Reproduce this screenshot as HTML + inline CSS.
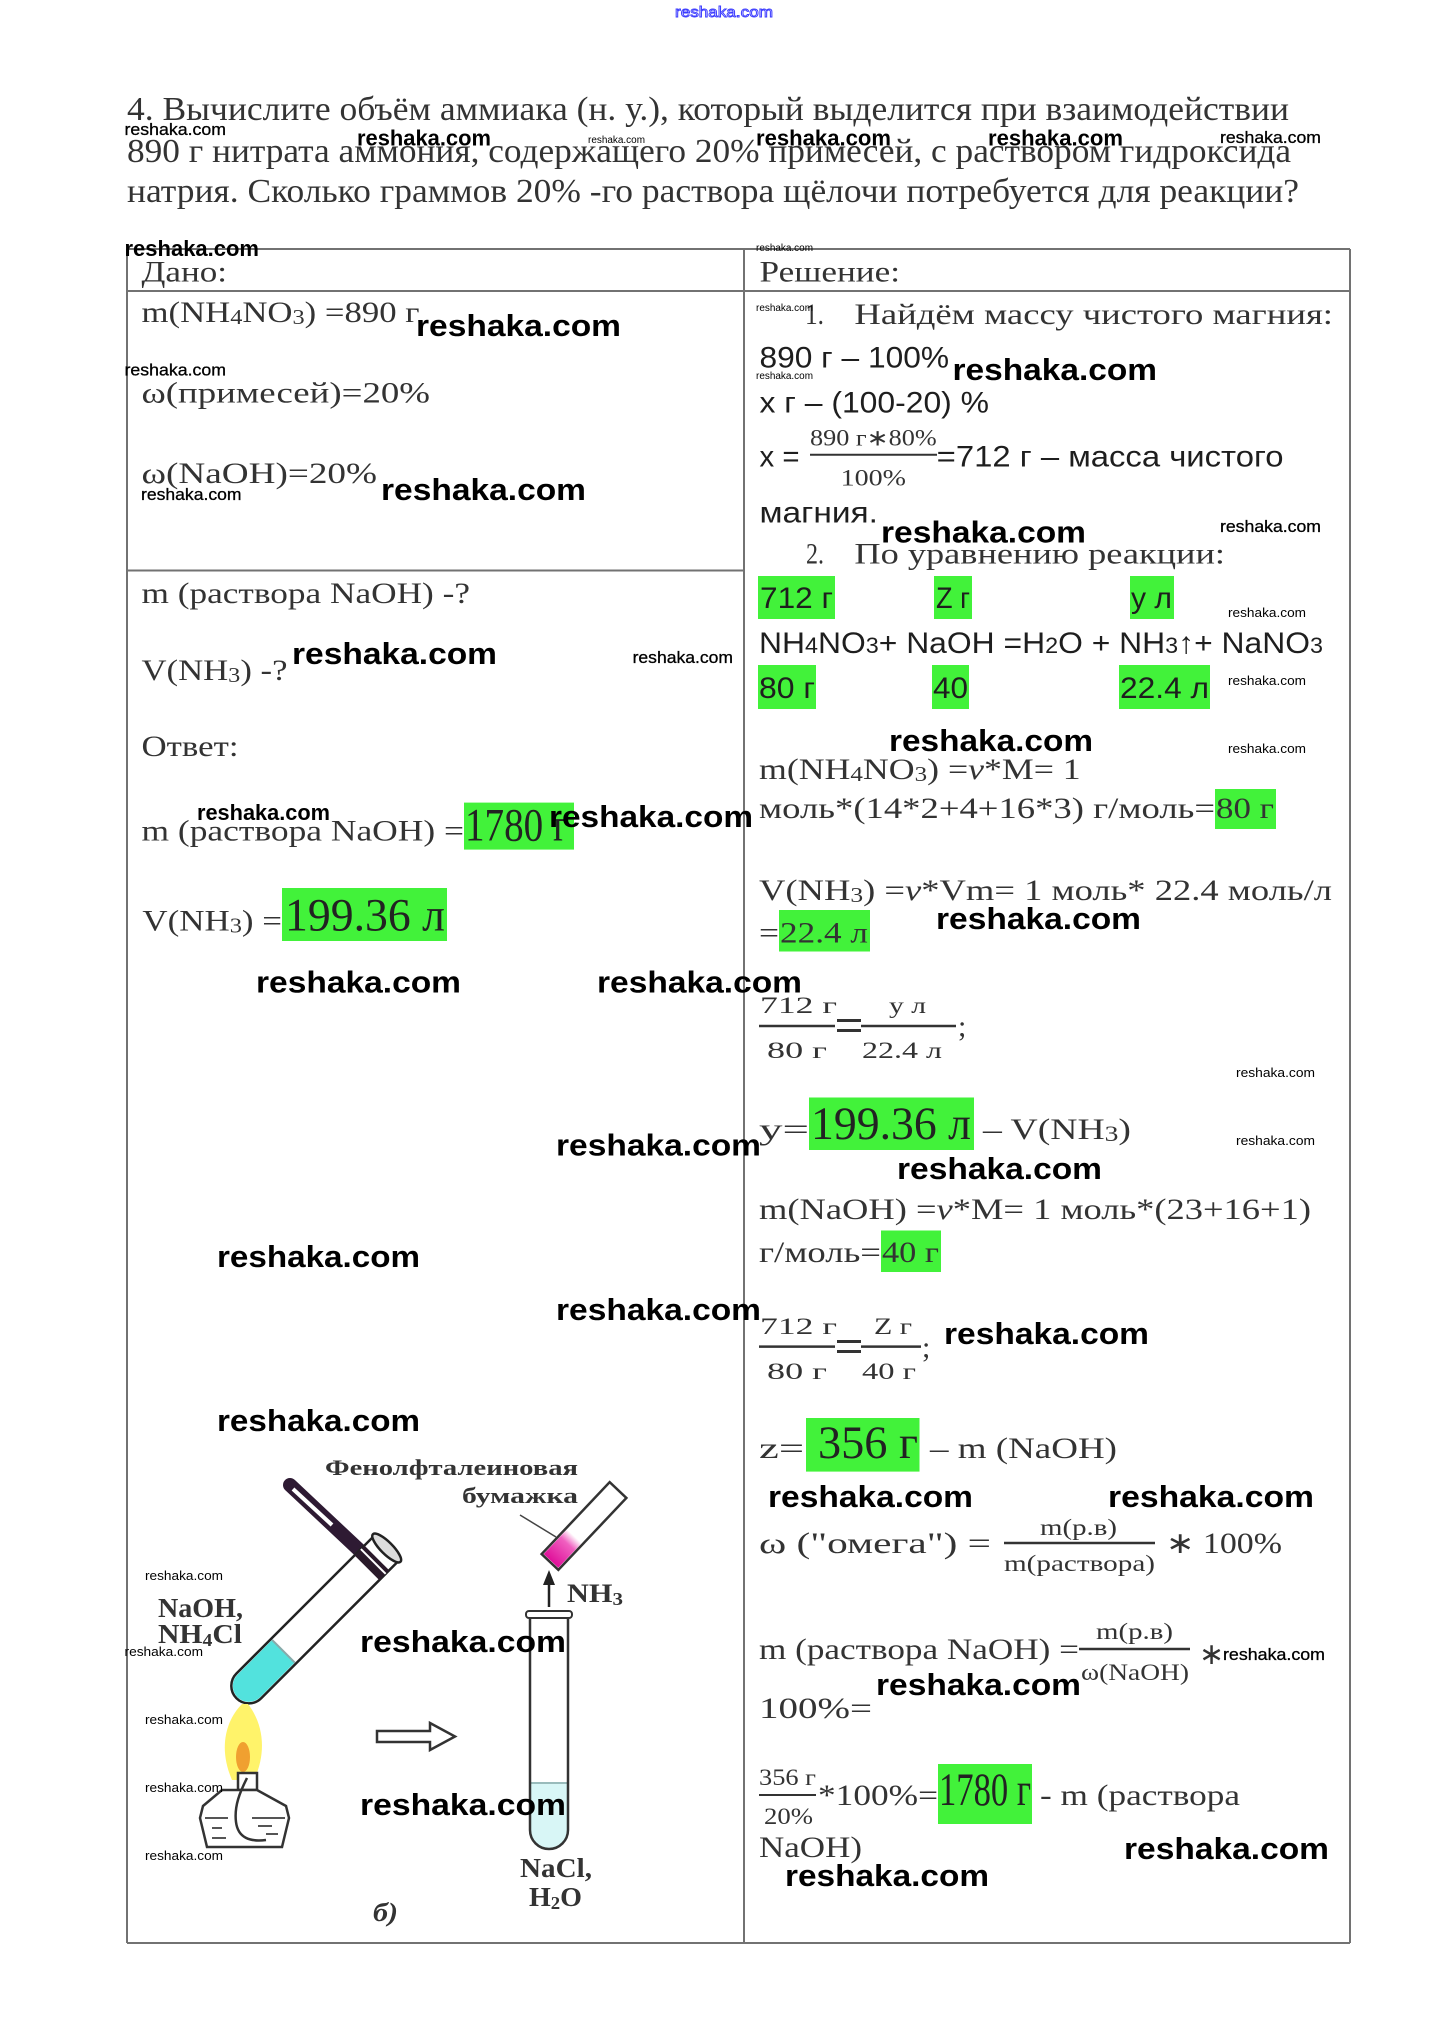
<!DOCTYPE html>
<html><head><meta charset="utf-8">
<style>
html,body{margin:0;padding:0;background:#fff;}
body{width:1448px;height:2022px;overflow:hidden;}
svg{display:block;}
.t{font-family:"Liberation Serif",serif;font-size:34px;fill:#333;}
.s{font-family:"Liberation Serif",serif;font-size:30px;fill:#333;}
.sb{font-family:"Liberation Serif",serif;font-size:47px;fill:#222;}
.sm{font-family:"Liberation Serif",serif;font-size:23px;fill:#333;}
.c{font-family:"Liberation Sans",sans-serif;font-size:30px;fill:#1e1e1e;}
.b{font-family:"Liberation Serif",serif;font-weight:bold;fill:#333;}
.wb{font-family:"Liberation Sans",sans-serif;font-size:31px;font-weight:bold;fill:#000;}
.wm{font-family:"Liberation Sans",sans-serif;font-size:22px;font-weight:bold;fill:#000;}
.ws{font-family:"Liberation Sans",sans-serif;font-size:17px;fill:#000;stroke:#000;stroke-width:0.3;}
.wx{font-family:"Liberation Sans",sans-serif;font-size:13px;fill:#000;}
.wt{font-family:"Liberation Sans",sans-serif;font-size:10px;fill:#000;}
.g{fill:#42f23a;}
</style></head>
<body>
<svg width="1448" height="2022" viewBox="0 0 1448 2022" xmlns="http://www.w3.org/2000/svg">
<rect x="0" y="0" width="1448" height="2022" fill="#fff"/>

<!-- top blue watermark -->
<text x="675" y="17" textLength="98" lengthAdjust="spacingAndGlyphs" style="font-family:'Liberation Sans',sans-serif;font-size:15px;fill:#fff;stroke:#3b3bff;stroke-width:0.9;">reshaka.com</text>

<!-- title -->
<text class="t" x="127" y="120" textLength="1162" lengthAdjust="spacingAndGlyphs">4. Вычислите объём аммиака (н. у.), который выделится при взаимодействии</text>
<text class="t" x="127" y="162" textLength="1164" lengthAdjust="spacingAndGlyphs">890 г нитрата аммония, содержащего 20% примесей, с раствором гидроксида</text>
<text class="t" x="127" y="202" textLength="1172" lengthAdjust="spacingAndGlyphs">натрия. Сколько граммов 20% -го раствора щёлочи потребуется для реакции?</text>

<!-- table -->
<g stroke="#727272" stroke-width="2" fill="none">
<line x1="127" y1="249" x2="1350" y2="249"/>
<line x1="127" y1="291" x2="1350" y2="291"/>
<line x1="127" y1="570.5" x2="744" y2="570.5"/>
<line x1="127" y1="1943" x2="1350" y2="1943"/>
<line x1="127" y1="249" x2="127" y2="1943"/>
<line x1="744" y1="249" x2="744" y2="1943"/>
<line x1="1350" y1="249" x2="1350" y2="1943"/>
</g>

<!-- left column -->
<text class="s" x="141.5" y="281.5" textLength="85.5" lengthAdjust="spacingAndGlyphs">Дано:</text>
<text class="s" x="141.5" y="322" textLength="278" lengthAdjust="spacingAndGlyphs">m(NH<tspan font-size="21" dy="2">4</tspan><tspan dy="-2">NO</tspan><tspan font-size="21" dy="2">3</tspan><tspan dy="-2">) =890 г</tspan></text>
<text class="s" x="141.5" y="402.5" textLength="288.5" lengthAdjust="spacingAndGlyphs">ω(примесей)=20%</text>
<text class="s" x="141.5" y="483" textLength="235.5" lengthAdjust="spacingAndGlyphs">ω(NaOH)=20%</text>
<text class="s" x="141.5" y="603" textLength="328.5" lengthAdjust="spacingAndGlyphs">m (раствора NaOH) -?</text>
<text class="s" x="141.5" y="680" textLength="146" lengthAdjust="spacingAndGlyphs">V(NH<tspan font-size="21" dy="2">3</tspan><tspan dy="-2">) -?</tspan></text>
<text class="s" x="141.5" y="756" textLength="97" lengthAdjust="spacingAndGlyphs">Ответ:</text>
<text class="s" x="141.5" y="840.5" textLength="322.5" lengthAdjust="spacingAndGlyphs">m (раствора NaOH) =</text>
<rect class="g" x="464" y="802.6" width="110" height="47"/>
<text class="sb" x="465" y="840.5" textLength="104" lengthAdjust="spacingAndGlyphs" font-size="45">1780 г</text>
<text class="s" x="142.4" y="930.5" textLength="139.6" lengthAdjust="spacingAndGlyphs">V(NH<tspan font-size="21" dy="2">3</tspan><tspan dy="-2">) =</tspan></text>
<rect class="g" x="282" y="888" width="165" height="53"/>
<text class="sb" x="285" y="930.5" textLength="160" lengthAdjust="spacingAndGlyphs">199.36 л</text>

<!-- right column -->
<text class="s" x="759.5" y="281.5" textLength="140.5" lengthAdjust="spacingAndGlyphs">Решение:</text>
<text class="s" x="805" y="324" textLength="19" lengthAdjust="spacingAndGlyphs">1.</text>
<text class="s" x="854.4" y="324" textLength="478.6" lengthAdjust="spacingAndGlyphs">Найдём массу чистого магния:</text>
<text class="c" x="759.5" y="367.7" textLength="189.5" lengthAdjust="spacingAndGlyphs">890 г – 100%</text>
<text class="c" x="759.5" y="412.4" textLength="229.5" lengthAdjust="spacingAndGlyphs">x г – (100-20) %</text>
<text class="c" x="759.5" y="466.6" textLength="40" lengthAdjust="spacingAndGlyphs">x =</text>
<text class="sm" x="810" y="445.6" textLength="126.7" lengthAdjust="spacingAndGlyphs">890 г∗80%</text>
<line x1="810" y1="454.7" x2="937" y2="454.7" stroke="#333" stroke-width="2"/>
<text class="sm" x="840.6" y="485.6" textLength="65.4" lengthAdjust="spacingAndGlyphs">100%</text>
<text class="c" x="936.7" y="466.6" textLength="346.8" lengthAdjust="spacingAndGlyphs">=712 г – масса чистого</text>
<text class="c" x="759.5" y="522.7" textLength="118.5" lengthAdjust="spacingAndGlyphs">магния.</text>
<text class="s" x="806" y="563.5" textLength="18" lengthAdjust="spacingAndGlyphs">2.</text>
<text class="s" x="854.4" y="563.5" textLength="370.6" lengthAdjust="spacingAndGlyphs">По уравнению реакции:</text>

<rect class="g" x="758" y="576" width="77" height="43"/>
<rect class="g" x="934" y="576" width="38" height="43"/>
<rect class="g" x="1130" y="576" width="44" height="43"/>
<text class="c" x="760" y="608" textLength="73" lengthAdjust="spacingAndGlyphs">712 г</text>
<text class="c" x="936" y="608" textLength="34" lengthAdjust="spacingAndGlyphs">Z г</text>
<text class="c" x="1131" y="608" textLength="41" lengthAdjust="spacingAndGlyphs">у л</text>
<text class="c" x="759" y="653" textLength="564" lengthAdjust="spacingAndGlyphs">NH<tspan font-size="22">4</tspan>NO<tspan font-size="22">3</tspan>+ NaOH =H<tspan font-size="22">2</tspan>O + NH<tspan font-size="22">3</tspan>↑+ NaNO<tspan font-size="22">3</tspan></text>
<rect class="g" x="758" y="665" width="58" height="44"/>
<rect class="g" x="932" y="665" width="37" height="44"/>
<rect class="g" x="1119" y="665" width="91" height="44"/>
<text class="c" x="759" y="698" textLength="56" lengthAdjust="spacingAndGlyphs">80 г</text>
<text class="c" x="933" y="698" textLength="35" lengthAdjust="spacingAndGlyphs">40</text>
<text class="c" x="1120" y="698" textLength="89" lengthAdjust="spacingAndGlyphs">22.4 л</text>

<text class="s" x="759" y="779" textLength="321.7" lengthAdjust="spacingAndGlyphs">m(NH<tspan font-size="21" dy="2">4</tspan><tspan dy="-2">NO</tspan><tspan font-size="21" dy="2">3</tspan><tspan dy="-2">) =</tspan><tspan font-style="italic">ν</tspan>*M= 1</text>
<text class="s" x="759" y="818" textLength="456" lengthAdjust="spacingAndGlyphs">моль*(14*2+4+16*3) г/моль=</text>
<rect class="g" x="1215" y="789" width="61" height="40"/>
<text class="s" x="1216" y="818" textLength="58" lengthAdjust="spacingAndGlyphs">80 г</text>

<text class="s" x="759" y="900" textLength="573" lengthAdjust="spacingAndGlyphs">V(NH<tspan font-size="21" dy="2">3</tspan><tspan dy="-2">) =</tspan><tspan font-style="italic">ν</tspan>*Vm= 1 моль* 22.4 моль/л</text>
<text class="s" x="759" y="942.6" textLength="20" lengthAdjust="spacingAndGlyphs">=</text>
<rect class="g" x="779" y="910" width="91" height="41.5"/>
<text class="s" x="780" y="942.6" textLength="88" lengthAdjust="spacingAndGlyphs">22.4 л</text>

<!-- fraction 1 -->
<text class="sm" x="760" y="1013" textLength="77" lengthAdjust="spacingAndGlyphs" font-size="25">712  г</text>
<line x1="759" y1="1026" x2="835" y2="1026" stroke="#333" stroke-width="2.5"/>
<rect x="837" y="1019" width="24" height="3" fill="#333"/>
<rect x="837" y="1029" width="24" height="3" fill="#333"/>
<line x1="861" y1="1026" x2="956" y2="1026" stroke="#333" stroke-width="2.5"/>
<text class="sm" x="889" y="1013" textLength="37" lengthAdjust="spacingAndGlyphs" font-size="25">у л</text>
<text class="sm" x="767" y="1058" textLength="60" lengthAdjust="spacingAndGlyphs" font-size="25">80  г</text>
<text class="sm" x="862" y="1058" textLength="80" lengthAdjust="spacingAndGlyphs" font-size="25">22.4 л</text>
<text class="s" x="958" y="1036">;</text>

<text class="s" x="759" y="1139" textLength="50" lengthAdjust="spacingAndGlyphs" font-size="42">y=</text>
<rect class="g" x="809" y="1097.5" width="165" height="52.5"/>
<text class="sb" x="811" y="1139" textLength="160" lengthAdjust="spacingAndGlyphs">199.36 л</text>
<text class="s" x="983" y="1139" textLength="148" lengthAdjust="spacingAndGlyphs" font-size="33">– V(NH<tspan font-size="22" dy="2">3</tspan><tspan dy="-2">)</tspan></text>

<text class="s" x="759" y="1219" textLength="552" lengthAdjust="spacingAndGlyphs">m(NaOH) =<tspan font-style="italic">ν</tspan>*M= 1 моль*(23+16+1)</text>
<text class="s" x="759" y="1262" textLength="122" lengthAdjust="spacingAndGlyphs">г/моль=</text>
<rect class="g" x="881" y="1230.5" width="60" height="41.5"/>
<text class="s" x="882" y="1262" textLength="57" lengthAdjust="spacingAndGlyphs">40 г</text>

<!-- fraction 2 -->
<text class="sm" x="760" y="1334" textLength="77" lengthAdjust="spacingAndGlyphs" font-size="25">712  г</text>
<line x1="759" y1="1346.6" x2="835" y2="1346.6" stroke="#333" stroke-width="2.5"/>
<rect x="837" y="1340" width="24" height="3" fill="#333"/>
<rect x="837" y="1350" width="24" height="3" fill="#333"/>
<line x1="861" y1="1346.6" x2="921" y2="1346.6" stroke="#333" stroke-width="2.5"/>
<text class="sm" x="874" y="1334" textLength="38" lengthAdjust="spacingAndGlyphs" font-size="25">Z г</text>
<text class="sm" x="767" y="1379" textLength="60" lengthAdjust="spacingAndGlyphs" font-size="25">80  г</text>
<text class="sm" x="862" y="1379" textLength="54" lengthAdjust="spacingAndGlyphs" font-size="25">40 г</text>
<text class="s" x="922" y="1357">;</text>

<text class="s" x="759" y="1458" textLength="45" lengthAdjust="spacingAndGlyphs" font-size="40">z=</text>
<rect class="g" x="806" y="1418" width="113.5" height="53.6"/>
<text class="sb" x="818" y="1458" textLength="100" lengthAdjust="spacingAndGlyphs">356 г</text>
<text class="s" x="930" y="1458" textLength="187" lengthAdjust="spacingAndGlyphs" font-size="33">– m (NaOH)</text>

<text class="s" x="759" y="1553" textLength="232" lengthAdjust="spacingAndGlyphs" font-size="33">ω ("омега") =</text>
<text class="sm" x="1040" y="1535" textLength="77" lengthAdjust="spacingAndGlyphs" font-size="26">m(р.в)</text>
<line x1="1004" y1="1543" x2="1155" y2="1543" stroke="#333" stroke-width="2.5"/>
<text class="sm" x="1004" y="1571" textLength="151" lengthAdjust="spacingAndGlyphs" font-size="26">m(раствора)</text>
<text class="s" x="1166" y="1553" textLength="116" lengthAdjust="spacingAndGlyphs" font-size="33">∗ 100%</text>

<text class="s" x="759" y="1659" textLength="320" lengthAdjust="spacingAndGlyphs">m (раствора NaOH) =</text>
<text class="sm" x="1096" y="1639" textLength="77" lengthAdjust="spacingAndGlyphs" font-size="24">m(р.в)</text>
<line x1="1079" y1="1649" x2="1190" y2="1649" stroke="#333" stroke-width="2.5"/>
<text class="sm" x="1081" y="1680" textLength="108" lengthAdjust="spacingAndGlyphs" font-size="24">ω(NaOH)</text>
<text class="s" x="1199" y="1664" font-size="28">∗</text>
<text class="s" x="759" y="1718" textLength="113" lengthAdjust="spacingAndGlyphs">100%=</text>

<text class="sm" x="759" y="1785" textLength="57" lengthAdjust="spacingAndGlyphs" font-size="20">356 г</text>
<line x1="759" y1="1795" x2="816" y2="1795" stroke="#333" stroke-width="2"/>
<text class="sm" x="764" y="1824" textLength="49" lengthAdjust="spacingAndGlyphs" font-size="20">20%</text>
<text class="s" x="818" y="1805" textLength="120" lengthAdjust="spacingAndGlyphs">*100%=</text>
<rect class="g" x="938" y="1764" width="94" height="60"/>
<text class="sb" x="939" y="1805" textLength="92" lengthAdjust="spacingAndGlyphs" font-size="42">1780 г</text>
<text class="s" x="1040" y="1805" textLength="200" lengthAdjust="spacingAndGlyphs">- m (раствора</text>
<text class="s" x="759" y="1857" textLength="103" lengthAdjust="spacingAndGlyphs">NaOH)</text>

<!-- chemistry picture -->
<defs>
<linearGradient id="pk" x1="0" y1="0" x2="1" y2="0">
<stop offset="0" stop-color="#e0109a"/><stop offset="0.7" stop-color="#f060c0"/><stop offset="1" stop-color="#ffffff"/>
</linearGradient>
</defs>
<!-- outlet rod -->
<line x1="290" y1="1485" x2="372" y2="1562" stroke="#2e1a33" stroke-width="14" stroke-linecap="round"/>
<line x1="293" y1="1489" x2="332" y2="1525" stroke="#fff" stroke-width="4"/>
<!-- tilted tube -->
<g transform="translate(386.7,1548) rotate(135)">
<path d="M0,-17.5 L195,-17.5 A17.5,17.5 0 0 1 195,17.5 L0,17.5" fill="#fff" stroke="#222" stroke-width="2.5"/>
<path d="M146,-16 L195,-16 A16,16 0 0 1 195,16 L146,16 Z" fill="#52e2dd"/>
<line x1="146" y1="-16" x2="146" y2="16" stroke="#8aa" stroke-width="2"/>
<rect x="14" y="-17.5" width="14" height="35" fill="#2a1a2a"/>
<rect x="18" y="-17.5" width="2" height="35" fill="#fff"/>
<ellipse cx="0" cy="0" rx="6" ry="19.5" fill="#ddd" stroke="#222" stroke-width="2.5"/>
</g>
<!-- flame -->
<path d="M242,1704 C226,1720 218,1748 232,1780 L254,1780 C268,1750 262,1722 248,1704 Z" fill="#fff36a"/>
<ellipse cx="243" cy="1757" rx="7" ry="15" fill="#f0a030"/>
<!-- spirit lamp -->
<rect x="238" y="1773" width="19" height="17" fill="#fff" stroke="#333" stroke-width="2.5"/>
<path d="M222,1790 L257,1790 L286,1806 L289,1818 L282,1847 L207,1847 L200,1818 L203,1806 Z" fill="#fff" stroke="#333" stroke-width="2.5"/>
<path d="M247,1778 C240,1792 234,1806 236,1822 C238,1838 250,1842 266,1840" fill="none" stroke="#333" stroke-width="2.5"/>
<g stroke="#555" stroke-width="2">
<line x1="205" y1="1818" x2="228" y2="1818"/><line x1="252" y1="1818" x2="285" y2="1818"/>
<line x1="212" y1="1828" x2="222" y2="1828"/><line x1="258" y1="1826" x2="272" y2="1826"/>
<line x1="212" y1="1838" x2="226" y2="1838"/><line x1="266" y1="1834" x2="278" y2="1834"/>
</g>
<!-- hollow arrow -->
<path d="M377,1731 L430,1731 L430,1723 L455,1736.5 L430,1750 L430,1742 L377,1742 Z" fill="#fff" stroke="#333" stroke-width="2.5"/>
<!-- right tube -->
<path d="M531,1783 L531,1830 A18,18 0 0 0 567,1830 L567,1783 Z" fill="#d8f6f6"/>
<line x1="531" y1="1783" x2="567" y2="1783" stroke="#9bb" stroke-width="2"/>
<path d="M530,1616 L530,1830 A19,19 0 0 0 568,1830 L568,1616" fill="none" stroke="#333" stroke-width="2.5"/>
<rect x="526" y="1611" width="46" height="7" rx="3" fill="#fff" stroke="#333" stroke-width="2"/>
<!-- up arrow -->
<line x1="549" y1="1607" x2="549" y2="1580" stroke="#222" stroke-width="2.5"/>
<polygon points="543,1585 549,1570 555,1585" fill="#222"/>
<!-- paper strip -->
<g transform="translate(550,1562) rotate(-46.6)">
<rect x="0" y="-11.5" width="99" height="23" fill="#fff" stroke="#333" stroke-width="2.5"/>
<rect x="1.5" y="-10" width="34" height="20" fill="url(#pk)"/>
</g>
<line x1="520" y1="1515" x2="556" y2="1537" stroke="#444" stroke-width="1.5"/>
<!-- picture labels -->
<text class="b" x="325" y="1475" font-size="22" textLength="253" lengthAdjust="spacingAndGlyphs">Фенолфталеиновая</text>
<text class="b" x="462" y="1503" font-size="22" textLength="116" lengthAdjust="spacingAndGlyphs">бумажка</text>
<text class="b" x="567" y="1602" font-size="26" textLength="56" lengthAdjust="spacingAndGlyphs">NH<tspan font-size="18" dy="3">3</tspan></text>
<text class="b" x="158" y="1617" font-size="27" textLength="85" lengthAdjust="spacingAndGlyphs">NaOH,</text>
<text class="b" x="158" y="1643" font-size="27" textLength="84" lengthAdjust="spacingAndGlyphs">NH<tspan font-size="18" dy="3">4</tspan><tspan dy="-3">Cl</tspan></text>
<text class="b" x="520" y="1877" font-size="27" textLength="72" lengthAdjust="spacingAndGlyphs">NaCl,</text>
<text class="b" x="529" y="1906" font-size="27" textLength="53" lengthAdjust="spacingAndGlyphs">H<tspan font-size="18" dy="3">2</tspan><tspan dy="-3">O</tspan></text>
<text class="b" x="373" y="1921" font-size="26" font-style="italic" textLength="25" lengthAdjust="spacingAndGlyphs">б)</text>

<!-- watermarks big -->
<g class="wb">
<text x="416" y="336" textLength="205" lengthAdjust="spacingAndGlyphs">reshaka.com</text>
<text x="381" y="500" textLength="205" lengthAdjust="spacingAndGlyphs">reshaka.com</text>
<text x="292" y="664" textLength="205" lengthAdjust="spacingAndGlyphs">reshaka.com</text>
<text x="549" y="827" textLength="204" lengthAdjust="spacingAndGlyphs">reshaka.com</text>
<text x="256" y="992.6" textLength="205" lengthAdjust="spacingAndGlyphs">reshaka.com</text>
<text x="597" y="992.6" textLength="205" lengthAdjust="spacingAndGlyphs">reshaka.com</text>
<text x="556" y="1155.5" textLength="205" lengthAdjust="spacingAndGlyphs">reshaka.com</text>
<text x="217" y="1267" textLength="203" lengthAdjust="spacingAndGlyphs">reshaka.com</text>
<text x="556" y="1320" textLength="205" lengthAdjust="spacingAndGlyphs">reshaka.com</text>
<text x="217" y="1431" textLength="203" lengthAdjust="spacingAndGlyphs">reshaka.com</text>
<text x="360" y="1652" textLength="206" lengthAdjust="spacingAndGlyphs">reshaka.com</text>
<text x="360" y="1815" textLength="206" lengthAdjust="spacingAndGlyphs">reshaka.com</text>
<text x="952.5" y="380" textLength="204.5" lengthAdjust="spacingAndGlyphs">reshaka.com</text>
<text x="881" y="542.5" textLength="205" lengthAdjust="spacingAndGlyphs">reshaka.com</text>
<text x="889" y="751" textLength="204" lengthAdjust="spacingAndGlyphs">reshaka.com</text>
<text x="936" y="929" textLength="205" lengthAdjust="spacingAndGlyphs">reshaka.com</text>
<text x="897" y="1179" textLength="205" lengthAdjust="spacingAndGlyphs">reshaka.com</text>
<text x="944" y="1344" textLength="205" lengthAdjust="spacingAndGlyphs">reshaka.com</text>
<text x="768" y="1507" textLength="205" lengthAdjust="spacingAndGlyphs">reshaka.com</text>
<text x="1108" y="1507" textLength="206" lengthAdjust="spacingAndGlyphs">reshaka.com</text>
<text x="876" y="1695" textLength="205" lengthAdjust="spacingAndGlyphs">reshaka.com</text>
<text x="1124" y="1859" textLength="205" lengthAdjust="spacingAndGlyphs">reshaka.com</text>
<text x="785" y="1886" textLength="204" lengthAdjust="spacingAndGlyphs">reshaka.com</text>
</g>
<g class="wm">
<text x="357" y="145.5" textLength="134" lengthAdjust="spacingAndGlyphs">reshaka.com</text>
<text x="756" y="145.5" textLength="135" lengthAdjust="spacingAndGlyphs">reshaka.com</text>
<text x="988" y="145.5" textLength="135" lengthAdjust="spacingAndGlyphs">reshaka.com</text>
<text x="124.5" y="256" textLength="134.5" lengthAdjust="spacingAndGlyphs">reshaka.com</text>
<text x="197" y="820" textLength="133" lengthAdjust="spacingAndGlyphs">reshaka.com</text>
</g>
<g class="ws">
<text x="124.5" y="135" textLength="101.5" lengthAdjust="spacingAndGlyphs">reshaka.com</text>
<text x="1220" y="143" textLength="101" lengthAdjust="spacingAndGlyphs">reshaka.com</text>
<text x="124.5" y="375.6" textLength="101.5" lengthAdjust="spacingAndGlyphs">reshaka.com</text>
<text x="141" y="500" textLength="100.5" lengthAdjust="spacingAndGlyphs">reshaka.com</text>
<text x="632.6" y="663" textLength="100.4" lengthAdjust="spacingAndGlyphs">reshaka.com</text>
<text x="1220" y="532" textLength="101" lengthAdjust="spacingAndGlyphs">reshaka.com</text>
<text x="1223" y="1660" textLength="102" lengthAdjust="spacingAndGlyphs">reshaka.com</text>
</g>
<g class="wx">
<text x="1228" y="617" textLength="78" lengthAdjust="spacingAndGlyphs">reshaka.com</text>
<text x="1228" y="685" textLength="78" lengthAdjust="spacingAndGlyphs">reshaka.com</text>
<text x="1228" y="753" textLength="78" lengthAdjust="spacingAndGlyphs">reshaka.com</text>
<text x="1236" y="1077" textLength="79" lengthAdjust="spacingAndGlyphs">reshaka.com</text>
<text x="1236" y="1145" textLength="79" lengthAdjust="spacingAndGlyphs">reshaka.com</text>
<text x="145" y="1580" textLength="78" lengthAdjust="spacingAndGlyphs">reshaka.com</text>
<text x="124.5" y="1656" textLength="78.5" lengthAdjust="spacingAndGlyphs">reshaka.com</text>
<text x="145" y="1724" textLength="78" lengthAdjust="spacingAndGlyphs">reshaka.com</text>
<text x="145" y="1792" textLength="78" lengthAdjust="spacingAndGlyphs">reshaka.com</text>
<text x="145" y="1860" textLength="78" lengthAdjust="spacingAndGlyphs">reshaka.com</text>
</g>
<g class="wt">
<text x="588" y="143" textLength="57" lengthAdjust="spacingAndGlyphs">reshaka.com</text>
<text x="756" y="251" textLength="57" lengthAdjust="spacingAndGlyphs">reshaka.com</text>
<text x="756" y="311" textLength="57" lengthAdjust="spacingAndGlyphs">reshaka.com</text>
<text x="756" y="379" textLength="57" lengthAdjust="spacingAndGlyphs">reshaka.com</text>
</g>
</svg>
</body></html>
